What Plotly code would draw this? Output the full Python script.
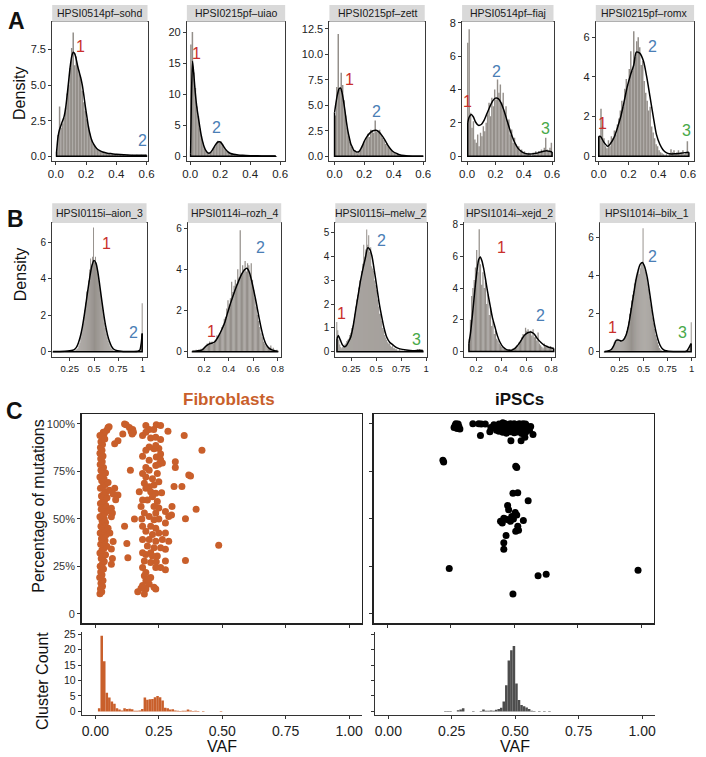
import plotly.graph_objects as go
import numpy as np

W, H = 706, 757
BIN = 0.01
FONT = "Liberation Sans, Arial, sans-serif"

# ---------------- Row A data ----------------
A_NAMES = ['HPSI0514pf\u2013sohd', 'HPSI0215pf\u2013uiao', 'HPSI0215pf\u2013zett',
           'HPSI0514pf\u2013fiaj', 'HPSI0215pf\u2013romx']
A_BAR_START = [0.005, 0.005, 0.005, 0.005, 0.005]
A1_BARS = [0.3, 1.5, 3.5, 2.0, 2.3, 2.7, 3.4, 4.4, 5.0, 6.2,
           7.6, 8.7, 6.4, 7.0, 6.3, 5.8, 5.4, 4.6, 3.8, 3.2,
           2.6, 2.1, 1.6, 1.2, 0.9, 0.8, 0.6, 0.5, 0.4, 0.35,
           0.3, 0.3, 0.25, 0.2, 0.2, 0.2, 0.15, 0.15, 0.1, 0.1,
           0.1, 0.05, 0.1, 0.05, 0.1, 0.05, 0.05, 0.1, 0.05, 0.05,
           0.1, 0.05, 0.05, 0.1, 0.05, 0.05, 0.1, 0.05, 0.05, 0.1]
A2_BARS = [18.0, 20.0, 13.5, 11.0, 8.0, 6.5, 4.5, 3.3, 2.2, 1.4,
           0.9, 0.5, 0.4, 0.5, 0.8, 1.2, 1.6, 2.0, 2.5, 2.2,
           2.4, 1.9, 1.5, 1.1, 0.8, 0.6, 0.5, 0.4, 0.35, 0.3,
           0.25, 0.2, 0.2, 0.15, 0.15, 0.12, 0.1, 0.1, 0.1, 0.1,
           0.08, 0.05, 0.08, 0.05, 0.05, 0.08, 0.05, 0.05, 0.05, 0.03,
           0.05, 0.03, 0.05, 0.03, 0.03, 0.05, 0.03, 0.03, 0.0, 0.0]
A3_BARS = [4.0, 6.8, 12.0, 6.5, 8.2, 7.0, 5.5, 4.0, 2.8, 2.0,
           1.4, 0.9, 0.7, 0.5, 0.4, 0.3, 0.4, 0.6, 0.9, 1.2,
           1.5, 1.8, 2.2, 1.9, 2.6, 2.5, 2.3, 3.5, 2.4, 2.5,
           2.6, 2.1, 1.8, 1.6, 1.2, 1.3, 0.9, 0.8, 0.6, 0.5,
           0.4, 0.3, 0.2, 0.2, 0.1, 0.1, 0.05, 0.05, 0.05, 0.0,
           0.05, 0.0, 0.0, 0.0, 0.0, 0.0, 0.0, 0.0, 0.0, 0.0]
A4_BARS = [6.8, 7.6, 2.6, 1.7, 2.1, 1.0, 0.8, 1.3, 0.6, 1.4,
           1.2, 1.8, 1.5, 2.0, 2.5, 3.2, 2.4, 3.5, 3.0, 4.0,
           3.4, 4.6, 3.8, 4.3, 3.2, 3.8, 2.6, 3.0, 2.0, 2.2,
           1.3, 1.6, 0.8, 1.1, 0.7, 0.5, 0.6, 0.3, 0.4, 0.2,
           0.3, 0.15, 0.1, 0.2, 0.1, 0.0, 0.2, 0.1, 0.3, 0.2,
           0.3, 0.2, 0.4, 0.3, 0.5, 1.1, 0.4, 0.3, 0.5, 0.8]
A5_BARS = [1.0, 2.4, 1.5, 0.9, 0.5, 0.4, 0.8, 0.5, 1.0, 0.9,
           1.3, 1.1, 1.6, 1.9, 2.3, 2.8, 2.5, 3.4, 3.9, 3.6,
           4.4, 5.3, 4.3, 6.3, 5.0, 5.8, 6.0, 5.5, 4.6, 4.8,
           3.8, 3.2, 2.8, 2.3, 2.5, 1.5, 1.2, 0.9, 0.6, 0.5,
           0.3, 0.2, 0.15, 0.1, 0.05, 0.1, 0.0, 0.1, 0.35, 0.2,
           0.3, 0.1, 0.2, 0.3, 0.15, 0.2, 0.3, 0.1, 0.2, 0.75]

A1_CX = [0.005, 0.015, 0.025, 0.035, 0.045, 0.055, 0.065, 0.075, 0.085, 0.095, 0.105, 0.115,
         0.125, 0.135, 0.145, 0.155, 0.165, 0.175, 0.185, 0.195, 0.205, 0.215, 0.225, 0.235,
         0.25, 0.27, 0.29, 0.31, 0.34, 0.37, 0.40, 0.45, 0.50, 0.55, 0.60]
A1_CY = [0.3, 1.4, 1.9, 2.2, 2.5, 2.8, 3.4, 4.3, 5.3, 6.3, 7.0, 7.3,
         7.2, 6.8, 6.3, 5.9, 5.5, 5.0, 4.3, 3.5, 2.8, 2.1, 1.6, 1.2,
         0.85, 0.55, 0.4, 0.3, 0.22, 0.18, 0.14, 0.1, 0.08, 0.08, 0.08]
A2_CX = [0.003, 0.008, 0.016, 0.025, 0.035, 0.045, 0.055, 0.065, 0.075, 0.085, 0.095, 0.105,
         0.115, 0.125, 0.135, 0.145, 0.155, 0.165, 0.175, 0.185, 0.195, 0.205, 0.215, 0.225,
         0.235, 0.25, 0.27, 0.29, 0.32, 0.35, 0.40, 0.45, 0.50, 0.57]
A2_CY = [0.5, 9.0, 15.3, 13.0, 10.0, 7.8, 6.2, 4.6, 3.2, 2.2, 1.4, 0.9,
         0.6, 0.5, 0.6, 0.9, 1.3, 1.7, 2.05, 2.3, 2.35, 2.2, 1.9, 1.5,
         1.15, 0.75, 0.45, 0.32, 0.22, 0.16, 0.1, 0.07, 0.05, 0.03]
A3_CX = [0.0, 0.01, 0.02, 0.03, 0.04, 0.05, 0.06, 0.07, 0.08, 0.09, 0.10, 0.11, 0.12, 0.13,
         0.14, 0.15, 0.16, 0.17, 0.18, 0.19, 0.20, 0.22, 0.24, 0.26, 0.28, 0.30, 0.32, 0.34,
         0.36, 0.38, 0.40, 0.42, 0.44, 0.47, 0.50, 0.55, 0.60]
A3_CY = [4.3, 5.3, 6.1, 6.6, 6.7, 6.3, 5.5, 4.5, 3.4, 2.5, 1.8, 1.2, 0.9, 0.6,
         0.5, 0.42, 0.42, 0.55, 0.8, 1.1, 1.45, 1.95, 2.3, 2.5, 2.55, 2.4, 2.05, 1.6,
         1.1, 0.7, 0.42, 0.28, 0.15, 0.07, 0.03, 0.01, 0.0]
A4_CX = [0.005, 0.015, 0.03, 0.045, 0.06, 0.08, 0.10, 0.12, 0.14, 0.16, 0.18, 0.20, 0.22,
         0.24, 0.26, 0.28, 0.30, 0.32, 0.34, 0.36, 0.38, 0.40, 0.42, 0.44, 0.46, 0.48, 0.50,
         0.52, 0.54, 0.56, 0.58, 0.60]
A4_CY = [2.0, 2.35, 2.5, 2.35, 2.05, 1.85, 1.9, 2.15, 2.55, 2.95, 3.3, 3.48, 3.45,
         3.2, 2.75, 2.2, 1.65, 1.15, 0.75, 0.47, 0.3, 0.2, 0.15, 0.13, 0.14, 0.17, 0.2,
         0.25, 0.3, 0.33, 0.3, 0.25]
A5_CX = [0.0, 0.011, 0.035, 0.06, 0.08, 0.104, 0.126, 0.148, 0.17, 0.191, 0.213, 0.235,
         0.252, 0.275, 0.30, 0.322, 0.344, 0.366, 0.387, 0.41, 0.431, 0.453, 0.475, 0.51,
         0.55, 0.58, 0.605]
A5_CY = [1.0, 1.0, 0.7, 0.5, 0.65, 0.97, 1.45, 2.0, 2.75, 3.5, 4.1, 4.6,
         5.25, 5.2, 4.8, 4.0, 3.0, 2.0, 1.1, 0.6, 0.33, 0.18, 0.12, 0.12,
         0.15, 0.18, 0.2]

A1_LABELS = [('1', 0.166, 7.7), ('2', 0.572, 1.1)]
A2_LABELS = [('1', 0.044, 16.5), ('2', 0.173, 4.7)]
A3_LABELS = [('1', 0.098, 7.5), ('2', 0.286, 4.44)]
A4_LABELS = [('1', 0.0, 3.3), ('2', 0.208, 5.05), ('3', 0.554, 1.68)]
A5_LABELS = [('1', 0.028, 1.63), ('2', 0.358, 5.55), ('3', 0.589, 1.3)]

A_XTICKS = [0.0, 0.2, 0.4, 0.6]
A_YTICKS = [[0, 2.5, 5, 7.5], [0, 5, 10, 15, 20], [0, 2.5, 5, 7.5, 10, 12.5], [0, 2, 4, 6, 8], [0, 2, 4, 6]]
A_YTEXT = [['0.0', '2.5', '5.0', '7.5'], ['0', '5', '10', '15', '20'],
           ['0.0', '2.5', '5.0', '7.5', '10.0', '12.5'], ['0', '2', '4', '6', '8'], ['0', '2', '4', '6']]

# ---------------- Row B data ----------------
B_NAMES = ['HPSI0115i\u2013aion_3', 'HPSI0114i\u2013rozh_4', 'HPSI0115i\u2013melw_2',
           'HPSI1014i\u2013xejd_2', 'HPSI1014i\u2013bilx_1']
B_BAR_START = [0.305, 0.105, 0.105, 0.145, 0.145]
B1_BARS = [0.05, 0.1, 0.15, 0.2, 0.35, 0.5, 0.8, 1.1, 1.5, 1.9, 2.3,
           2.7, 3.3, 3.2, 3.9, 4.5, 5.1, 4.6, 5.2, 6.8, 4.9,
           5.2, 4.7, 4.4, 4.0, 3.6, 3.2, 2.8, 2.4, 2.0, 1.6,
           1.3, 1.0, 0.8, 0.6, 0.45, 0.3, 0.2, 0.15, 0.1, 0.05,
           0.05, 0.03, 0.03, 0.0, 0.02, 0.0, 0.0, 0.02, 0.0, 0.0,
           0, 0, 0, 0, 0, 0, 0, 0, 0, 0,
           0, 0, 0, 0, 0, 0, 0.05, 0.4, 2.65]
B2_BARS = [0.05, 0.02, 0.05, 0.1, 0.05, 0.1, 0.1, 0.15, 0.1, 0.2,
           0.25, 0.3, 0.4, 0.35, 0.5, 0.45, 0.5, 0.4, 0.55, 0.6,
           0.8, 0.75, 0.9, 1.0, 1.2, 1.3, 1.6, 1.7, 2.1, 2.5,
           2.3, 2.6, 3.4, 2.9, 3.2, 3.5, 3.3, 4.0, 3.6, 5.9,
           3.8, 4.2, 4.0, 4.4, 3.9, 4.3, 4.2, 3.7, 4.3, 3.5,
           3.0, 2.6, 2.2, 1.8, 1.5, 1.2, 0.9, 0.7, 0.5, 0.4,
           0.3, 0.25, 0.2, 0.15, 0.3, 0.1, 0.2, 0.1, 0.05, 0.1, 0.05]
B3_BARS = [1.25, 0.9, 0.5, 0.3, 0.2, 0.15, 0.2, 0.25, 0.3, 0.35,
           0.45, 0.5, 0.55, 0.7, 0.8, 1.0, 1.1, 1.3, 1.6, 1.9,
           2.2, 2.4, 2.7, 3.0, 2.9, 3.4, 3.7, 4.5, 4.0, 4.3,
           5.15, 4.5, 4.9, 4.2, 4.4, 3.6, 3.5, 3.4, 3.0, 2.8,
           2.6, 2.2, 1.9, 1.6, 1.6, 1.3, 1.0, 0.9, 0.7, 0.6,
           0.5, 0.4, 0.35, 0.35, 0.25, 0.2, 0.25, 0.15, 0.15, 0.1,
           0.1, 0.05, 0.05, 0.1, 0.05, 0.05, 0.05, 0.0, 0.05, 0.0,
           0.05, 0.0, 0.05, 0.0, 0.0, 0.05, 0.0, 0.05, 0.0, 0.05,
           0.05, 0.1, 0.05, 0.1, 0.05, 0.05, 0.05]
B4_BARS = [0.8, 2.0, 3.5, 4.0, 4.5, 5.3, 6.4, 5.0, 7.7, 5.5,
           4.2, 5.0, 4.0, 4.6, 3.0, 3.6, 2.3, 2.8, 1.6, 1.9,
           1.1, 1.3, 0.8, 0.7, 0.5, 0.4, 0.3, 0.2, 0.15, 0.1,
           0.1, 0.05, 0.15, 0.1, 0.1, 0.2, 0.15, 0.3, 0.4, 0.35,
           0.6, 0.7, 0.9, 1.1, 1.0, 1.5, 1.3, 1.4, 1.2, 1.3,
           1.0, 1.4, 0.9, 1.0, 0.7, 1.2, 0.5, 0.4, 0.3, 0.2,
           0.5, 0.3, 0.4, 0.3, 0.2, 0.35, 0.2, 0.25]
B5_BARS = [0.05, 0.1, 0.15, 0.2, 0.3, 0.5, 0.6, 0.55, 0.7, 0.65,
           0.6, 0.5, 0.6, 0.55, 0.6, 0.7, 0.8, 0.9, 1.1, 1.3,
           1.6, 2.0, 2.3, 2.7, 3.0, 3.2, 3.6, 3.8, 4.0, 4.2,
           4.3, 4.1, 4.4, 4.6, 4.7, 6.5, 4.5, 4.3, 4.2, 3.9,
           3.6, 3.3, 2.9, 2.5, 2.2, 1.8, 1.5, 1.2, 0.9, 0.7,
           0.5, 0.35, 0.2, 0.12, 0.08, 0.05, 0.03, 0.0, 0.02, 0.0,
           0.0, 0.02, 0.0, 0.0, 0.0, 0.02, 0.0, 0.0, 0.0, 0.0,
           0, 0, 0, 0, 0, 0, 0, 0, 0.02, 0.0,
           0.02, 0.05, 0.1, 0.15, 0.3, 1.55]

B1_CX = [0.08, 0.15, 0.20, 0.25, 0.28, 0.30, 0.32, 0.34, 0.36, 0.38, 0.40, 0.42, 0.44, 0.46,
         0.48, 0.50, 0.52, 0.54, 0.56, 0.58, 0.60, 0.62, 0.64, 0.66, 0.68, 0.70, 0.73, 0.76,
         0.80, 0.90, 0.95, 0.97, 0.985, 0.995]
B1_CY = [0.02, 0.02, 0.03, 0.05, 0.08, 0.13, 0.25, 0.5, 0.85, 1.35, 2.0, 2.75, 3.5, 4.2,
         4.75, 5.0, 4.85, 4.35, 3.6, 2.8, 2.05, 1.4, 0.9, 0.55, 0.3, 0.15, 0.07, 0.04,
         0.02, 0.02, 0.03, 0.08, 0.45, 1.0]
B2_CX = [0.105, 0.14, 0.18, 0.22, 0.25, 0.27, 0.29, 0.31, 0.33, 0.35, 0.37, 0.39, 0.41, 0.43,
         0.45, 0.47, 0.49, 0.51, 0.53, 0.55, 0.57, 0.59, 0.61, 0.63, 0.65, 0.67, 0.69, 0.71,
         0.73, 0.76, 0.80]
B2_CY = [0.02, 0.04, 0.08, 0.3, 0.4, 0.43, 0.5, 0.68, 0.9, 1.15, 1.45, 1.85, 2.25, 2.6,
         2.95, 3.25, 3.55, 3.8, 3.98, 4.05, 3.85, 3.4, 2.85, 2.25, 1.62, 1.05, 0.6, 0.32,
         0.18, 0.08, 0.02]
B3_CX = [0.107, 0.12, 0.14, 0.16, 0.18, 0.20, 0.22, 0.245, 0.27, 0.294, 0.32, 0.343, 0.37,
         0.392, 0.415, 0.437, 0.457, 0.48, 0.507, 0.53, 0.556, 0.58, 0.605, 0.635, 0.67, 0.70,
         0.737, 0.80, 0.868, 0.90, 0.934, 0.967]
B3_CY = [0.55, 0.68, 0.5, 0.3, 0.21, 0.25, 0.4, 0.62, 1.1, 1.74, 2.4, 2.99, 3.55,
         3.96, 4.37, 4.3, 4.03, 3.45, 2.7, 2.05, 1.46, 0.98, 0.62, 0.4, 0.28, 0.18,
         0.12, 0.07, 0.04, 0.05, 0.06, 0.05]
B4_CX = [0.143, 0.156, 0.169, 0.182, 0.195, 0.208, 0.221, 0.234, 0.247, 0.26, 0.273, 0.29,
         0.312, 0.33, 0.351, 0.37, 0.39, 0.415, 0.443, 0.465, 0.482, 0.51, 0.534, 0.56, 0.586,
         0.612, 0.638, 0.664, 0.69, 0.716, 0.743, 0.78, 0.82]
B4_CY = [0.5, 1.2, 2.17, 3.2, 4.25, 5.15, 5.8, 5.96, 5.7, 5.25, 4.67, 3.85,
         2.9, 2.15, 1.54, 1.0, 0.6, 0.28, 0.12, 0.08, 0.08, 0.2, 0.4, 0.7, 1.02,
         1.18, 1.23, 1.1, 0.81, 0.58, 0.4, 0.27, 0.19]
B5_CX = [0.096, 0.13, 0.165, 0.19, 0.216, 0.24, 0.267, 0.29, 0.318, 0.345, 0.37, 0.395,
         0.42, 0.445, 0.465, 0.488, 0.51, 0.539, 0.565, 0.59, 0.615, 0.642, 0.668, 0.693,
         0.72, 0.761, 0.85, 0.93, 0.95, 0.966, 0.98, 0.994]
B5_CY = [0.01, 0.04, 0.12, 0.32, 0.6, 0.62, 0.57, 0.62, 0.87, 1.4, 2.17, 2.95,
         3.74, 4.3, 4.6, 4.7, 4.5, 3.9, 3.05, 2.17, 1.4, 0.78, 0.38, 0.17,
         0.07, 0.03, 0.02, 0.02, 0.05, 0.17, 0.3, 0.43]

B1_LABELS = [('1', 0.625, 5.9), ('2', 0.904, 1.05)]
B2_LABELS = [('1', 0.26, 0.96), ('2', 0.661, 5.07)]
B3_LABELS = [('1', 0.152, 1.63), ('2', 0.556, 4.68), ('3', 0.908, 0.51)]
B4_LABELS = [('1', 0.404, 6.54), ('2', 0.717, 2.27)]
B5_LABELS = [('1', 0.181, 1.3), ('2', 0.59, 5.0), ('3', 0.905, 1.04)]

B_XTICKS = [[0.25, 0.5, 0.75, 1], [0.2, 0.4, 0.6, 0.8], [0.25, 0.5, 0.75, 1],
            [0.2, 0.4, 0.6, 0.8], [0.25, 0.5, 0.75, 1]]
B_XTEXT = [['0.25', '0.5', '0.75', '1'], ['0.2', '0.4', '0.6', '0.8'], ['0.25', '0.5', '0.75', '1'],
           ['0.2', '0.4', '0.6', '0.8'], ['0.25', '0.5', '0.75', '1']]
B_YTICKS = [[0, 2, 4, 6], [0, 2, 4, 6], [0, 1, 2, 3, 4, 5], [0, 2, 4, 6, 8], [0, 2, 4, 6]]

# ---------------- Row C data ----------------
FIB_POINTS = [
    (0.018, 10.5), (0.025, 11.5), (0.02, 13), (0.028, 14.5), (0.022, 16), (0.03, 17.5), (0.017, 19),
    (0.026, 20.5), (0.021, 22), (0.032, 23.5), (0.019, 25), (0.027, 26), (0.035, 27.5), (0.023, 29),
    (0.03, 30), (0.04, 31), (0.018, 32), (0.026, 33.5), (0.034, 34.5), (0.045, 35.5), (0.021, 36.5),
    (0.03, 37.5), (0.038, 38.5), (0.024, 39.5), (0.033, 40.5), (0.042, 41.5), (0.019, 42.5),
    (0.028, 43.5), (0.036, 44.5), (0.05, 45), (0.022, 46), (0.031, 47), (0.04, 48), (0.026, 49),
    (0.035, 50), (0.018, 51), (0.029, 52), (0.038, 53), (0.047, 54), (0.023, 55), (0.032, 56),
    (0.041, 57), (0.02, 58), (0.029, 59), (0.037, 60), (0.046, 61), (0.024, 62), (0.033, 63),
    (0.042, 64), (0.055, 65), (0.02, 66), (0.03, 67), (0.039, 68), (0.05, 69), (0.025, 70),
    (0.034, 71), (0.018, 72), (0.028, 73), (0.04, 74), (0.022, 75.5), (0.032, 77), (0.019, 78.5),
    (0.027, 80), (0.021, 81.5), (0.03, 83), (0.018, 84.5), (0.026, 86), (0.02, 87.5), (0.028, 89),
    (0.022, 90.5), (0.03, 92), (0.025, 93.5), (0.035, 95), (0.045, 96.5), (0.05, 98),
    (0.076, 66), (0.07, 63), (0.089, 62.5), (0.08, 60), (0.063, 55.5), (0.067, 53), (0.063, 51),
    (0.057, 42.5), (0.07, 38), (0.063, 34), (0.067, 29), (0.063, 26), (0.054, 98.4), (0.031, 95.5),
    (0.018, 93.8), (0.037, 92),
    (0.089, 91), (0.115, 99.8), (0.121, 99.5), (0.134, 98), (0.141, 96), (0.147, 97), (0.15, 95.5),
    (0.145, 94.6), (0.108, 94.6), (0.076, 89.4), (0.138, 75.5), (0.128, 29.5), (0.115, 46),
    (0.154, 49.8), (0.124, 37),
    (0.199, 99), (0.24, 99.5), (0.257, 99), (0.212, 97), (0.23, 97), (0.186, 93.8), (0.199, 95.5),
    (0.286, 96), (0.218, 92.5), (0.238, 92.9), (0.257, 91.7), (0.25, 87), (0.231, 86.8), (0.238, 88.5),
    (0.212, 87.7), (0.186, 82.8), (0.199, 86), (0.24, 82.5), (0.257, 84), (0.199, 76.9), (0.212, 75.5),
    (0.238, 78), (0.25, 78.6), (0.264, 79.3), (0.257, 81), (0.244, 73.8), (0.225, 71), (0.193, 68.6),
    (0.212, 66.8), (0.231, 67.7), (0.25, 69.4), (0.199, 66), (0.218, 64.2), (0.238, 63.4), (0.261, 63.7),
    (0.205, 59.9), (0.225, 61.6), (0.244, 59), (0.231, 56.4), (0.25, 55.6), (0.238, 53), (0.212, 51.2),
    (0.193, 53), (0.231, 49.5), (0.25, 49.8), (0.276, 53.8), (0.289, 51.2), (0.302, 56.4), (0.276, 47.7),
    (0.218, 46), (0.238, 45), (0.199, 43.4), (0.225, 41.7), (0.25, 42.5), (0.276, 42.5), (0.212, 39),
    (0.238, 38.2), (0.264, 39), (0.289, 38.2), (0.205, 35.6), (0.231, 34.7), (0.257, 34.7), (0.276, 33.9),
    (0.199, 31.2), (0.218, 32.1), (0.244, 30.4), (0.193, 27.8), (0.218, 26.9), (0.24, 27.3), (0.276, 27.8),
    (0.257, 24.3), (0.238, 24.3), (0.276, 23.1), (0.199, 21.7), (0.193, 20), (0.218, 19.1), (0.199, 17.4),
    (0.212, 15.6), (0.231, 13.9), (0.238, 13), (0.199, 13), (0.167, 11.6), (0.193, 10.4), (0.18, 13.4),
    (0.186, 14.8), (0.209, 18.2), (0.186, 24.3), (0.186, 32.1), (0.186, 39), (0.186, 46), (0.186, 59.9),
    (0.186, 73.8), (0.173, 64.2), (0.18, 56.4), (0.183, 49.8), (0.212, 80.7), (0.199, 72), (0.225, 30.4),
    (0.35, 93.75), (0.42, 86), (0.486, 36), (0.355, 28), (0.397, 55), (0.355, 50), (0.368, 73),
    (0.375, 72.5), (0.315, 80), (0.315, 77), (0.341, 67), (0.31, 67), (0.30, 52),
]
IPS_POINTS = [
    (0.42, 99.5), (0.43, 98.5), (0.44, 99.8), (0.445, 97.5), (0.45, 99), (0.455, 98), (0.46, 100),
    (0.465, 96.5), (0.47, 99.3), (0.475, 97.8), (0.48, 98.8), (0.485, 100), (0.49, 96.8), (0.495, 99.2),
    (0.50, 98), (0.505, 99.6), (0.51, 97), (0.515, 98.6), (0.52, 100), (0.525, 96.3), (0.53, 99),
    (0.535, 97.6), (0.54, 98.8), (0.545, 99.8), (0.55, 97.2), (0.555, 98.4), (0.56, 96.6), (0.44, 96),
    (0.455, 95.5), (0.47, 95), (0.485, 95.8), (0.50, 95.2), (0.515, 95.6), (0.53, 94.8), (0.545, 95.5),
    (0.465, 100), (0.49, 99.5), (0.50, 100), (0.52, 98), (0.535, 100), (0.48, 97), (0.51, 99.5),
    (0.455, 100.5), (0.43, 96.5), (0.565, 98.5), (0.574, 94.3), (0.527, 91), (0.487, 91), (0.542, 92.9),
    (0.367, 93.75), (0.404, 95.8), (0.408, 98), (0.424, 99), (0.337, 100), (0.36, 100), (0.37, 99.8),
    (0.386, 99.8), (0.267, 99), (0.273, 98.4), (0.279, 99.8), (0.286, 97.2), (0.263, 98), (0.282, 98.5),
    (0.275, 97.5), (0.27, 100),
    (0.219, 80.7), (0.222, 79.9), (0.506, 77.6), (0.51, 76.9), (0.495, 63.4), (0.514, 63.7),
    (0.555, 59.5), (0.474, 56.9), (0.478, 54.7), (0.504, 53.3), (0.51, 52), (0.49, 51.2), (0.465, 49.8),
    (0.446, 48.6), (0.453, 47.7), (0.476, 49.5), (0.459, 50.3), (0.485, 48.6), (0.497, 49.8),
    (0.536, 49), (0.514, 46), (0.506, 43.4), (0.517, 43.9), (0.468, 41.1), (0.459, 37.3), (0.459, 33.9),
    (0.244, 23.8), (0.594, 20), (0.626, 20.8), (0.495, 10.4), (0.988, 22.9),
]
FIB_HIST_START = 0.015
FIB_HIST = [1.0, 24.5, 16.2, 6.0, 4.5, 3.2, 2.5, 1.0, 0.6, 0.3,
            1.0, 0.8, 0.9, 0.7, 0.2, 0.2, 0.3, 0.8, 4.5, 3.8,
            3.9, 4.0, 4.6, 5.0, 4.6, 3.5, 1.2, 1.0, 0.6, 0.7,
            0.3, 0.2, 0.1, 0.2, 0.2, 0.6, 0.3, 0.1, 0.2, 0.1,
            0.0, 0.1, 0.0, 0.0, 0.0, 0.0, 0.0, 0.0, 0.1]
IPS_HIST_START = 0.225
IPS_HIST = [0.1, 0.1, 0.1, 0.0, 0.0, 0.4, 0.6, 1.0, 0.0, 0.0,
            0.0, 0.1, 0.0, 0.0, 0.1, 0.6, 0.2, 0.2, 0.3, 0.2,
            0.5, 0.8, 1.2, 3.2, 8.5, 16.5, 19.8, 21.2, 9.0, 3.7,
            2.1, 1.7, 1.3, 0.8, 0.2, 0.1, 0.0, 0.1, 0.0, 0.1,
            0.0, 0.1]
VAF_TICKS = [0.0, 0.25, 0.5, 0.75, 1.0]
VAF_TEXT = ['0.00', '0.25', '0.50', '0.75', '1.00']
PCT_TICKS = [0, 25, 50, 75, 100]
PCT_TEXT = ['0', '25%', '50%', '75%', '100%']
COUNT_TICKS = [0, 5, 10, 15, 20, 25]

# ---------------- styling ----------------
BAR_GREY = '#948f8a'
FIB_COL = '#c95f2b'
IPS_COL = '#000000'
IPS_HIST_COL = '#4d4d4d'
LABEL_COL = {'1': '#c9302c', '2': '#4a7eb5', '3': '#48a848'}

fig = go.Figure()
layout = dict(width=W, height=H, margin=dict(l=0, r=0, t=0, b=0), autosize=False,
              paper_bgcolor='white', plot_bgcolor='white', showlegend=False,
              barmode='overlay', font=dict(family=FONT, color='#222'))
annotations = []
shapes = []
counter = [0]


def add_axes(xl, xr, yt, yb, xr_, yr_, xo, yo):
    counter[0] += 1
    n = counter[0]
    xs = 'x' if n == 1 else f'x{n}'
    ys = 'y' if n == 1 else f'y{n}'
    layout['xaxis' if n == 1 else f'xaxis{n}'] = dict(domain=[xl / W, xr / W], range=xr_, anchor=ys,
                                                       showgrid=False, zeroline=False, **xo)
    layout['yaxis' if n == 1 else f'yaxis{n}'] = dict(domain=[1 - yb / H, 1 - yt / H], range=yr_, anchor=xs,
                                                       showgrid=False, zeroline=False, **yo)
    return xs, ys


def frame_axis(size, **kw):
    d = dict(showline=True, mirror=True, linecolor='#3a3a3a', linewidth=1, ticks='outside',
             ticklen=3, tickwidth=1, tickcolor='#3a3a3a', tickfont=dict(size=size, color='#222'))
    d.update(kw)
    return d


def density_panel(xs, ys, start, bars, cx, cy, labels):
    centers = start + BIN * np.arange(len(bars))
    fig.add_trace(go.Bar(x=centers, y=bars, width=BIN, marker=dict(color=BAR_GREY, line=dict(width=0)),
                         xaxis=xs, yaxis=ys))
    fig.add_trace(go.Scatter(x=cx, y=cy, mode='lines', xaxis=xs, yaxis=ys,
                             line=dict(color='black', width=1.5, shape='spline', smoothing=0.7)))
    fig.add_trace(go.Scatter(x=[cx[-1], cx[-1], cx[0], cx[0]], y=[cy[-1], 0, 0, cy[0]], mode='lines',
                             xaxis=xs, yaxis=ys, line=dict(color='black', width=1.5)))
    for t, lx, ly in labels:
        annotations.append(dict(x=lx, y=ly, xref=xs, yref=ys, text=t, showarrow=False,
                                xanchor='center', yanchor='middle',
                                font=dict(size=16, color=LABEL_COL[t])))


def strip(xl, xr, yt, yb, text):
    shapes.append(dict(type='rect', xref='paper', yref='paper', x0=xl / W, x1=xr / W,
                       y0=1 - yb / H, y1=1 - yt / H, fillcolor='#d9d9d9', line=dict(width=0)))
    annotations.append(dict(x=(xl + xr) / 2 / W, y=1 - (yt + yb) / 2 / H, xref='paper', yref='paper',
                            text=text, showarrow=False, xanchor='center', yanchor='middle',
                            font=dict(size=10.5, color='#1a1a1a')))


def ptext(x, y, text, size, color='#111', bold=False, angle=0):
    annotations.append(dict(x=x / W, y=1 - y / H, xref='paper', yref='paper', showarrow=False,
                            text=f'<b>{text}</b>' if bold else text, textangle=angle,
                            xanchor='center', yanchor='middle', font=dict(size=size, color=color)))


# Row A
A_FRAMES = [(48, 145), (185, 285), (330, 427), (465, 558), (601, 701)]
A_XR = [[-0.024, 0.606], [-0.022, 0.633], [-0.035, 0.61], [-0.035, 0.61], [-0.02, 0.64]]
A_YR = [[-0.30, 9.44], [-0.69, 21.65], [-0.42, 13.2], [-0.26, 8.05], [-0.22, 6.78]]
A_DATA = [(A1_BARS, A1_CX, A1_CY, A1_LABELS), (A2_BARS, A2_CX, A2_CY, A2_LABELS),
          (A3_BARS, A3_CX, A3_CY, A3_LABELS), (A4_BARS, A4_CX, A4_CY, A4_LABELS),
          (A5_BARS, A5_CX, A5_CY, A5_LABELS)]
for i in range(5):
    xl, xr = A_FRAMES[i]
    xs, ys = add_axes(xl, xr, 17, 157, A_XR[i], A_YR[i],
                      frame_axis(11.5, tickvals=A_XTICKS, ticktext=['0.0', '0.2', '0.4', '0.6']),
                      frame_axis(11, tickvals=A_YTICKS[i], ticktext=A_YTEXT[i]))
    b, cx, cy, lab = A_DATA[i]
    density_panel(xs, ys, A_BAR_START[i], b, cx, cy, lab)
    strip(xl, xr, 0, 17, A_NAMES[i])

# Row B
B_FRAMES = [(48, 144), (186, 281), (336, 429), (467, 560), (605, 702)]
B_XR = [[0.07, 1.04], [0.067, 0.83], [0.09, 1.006], [0.104, 0.834], [0.045, 1.035]]
B_YR = [[-0.27, 7.05], [-0.24, 6.25], [-0.21, 5.42], [-0.33, 8.1], [-0.26, 6.78]]
B_DATA = [(B1_BARS, B1_CX, B1_CY, B1_LABELS), (B2_BARS, B2_CX, B2_CY, B2_LABELS),
          (B3_BARS, B3_CX, B3_CY, B3_LABELS), (B4_BARS, B4_CX, B4_CY, B4_LABELS),
          (B5_BARS, B5_CX, B5_CY, B5_LABELS)]
for i in range(5):
    xl, xr = B_FRAMES[i]
    xs, ys = add_axes(xl, xr, 220, 355, B_XR[i], B_YR[i],
                      frame_axis(9.5, tickvals=B_XTICKS[i], ticktext=B_XTEXT[i]),
                      frame_axis(10, tickvals=B_YTICKS[i]))
    b, cx, cy, lab = B_DATA[i]
    density_panel(xs, ys, B_BAR_START[i], b, cx, cy, lab)
    strip(xl, xr, 200, 220, B_NAMES[i])

# Row C scatter
VAF_R = [-0.054, 1.05]
sc_x = dict(showline=True, mirror=True, linecolor='#222', linewidth=1.5, ticks='outside', ticklen=3,
            tickcolor='#333', tickvals=VAF_TICKS, showticklabels=False)
for j, (pts, col, xl, xr) in enumerate([(FIB_POINTS, FIB_COL, 78, 363), (IPS_POINTS, IPS_COL, 375, 660)]):
    yo = dict(showline=True, mirror=True, linecolor='#222', linewidth=1.5, ticks='outside', ticklen=3,
              tickcolor='#333', tickvals=PCT_TICKS, ticktext=PCT_TEXT, showticklabels=(j == 0),
              tickfont=dict(size=11, color='#333'))
    xs, ys = add_axes(xl, xr, 413, 624, VAF_R, [-5, 105], sc_x, yo)
    fig.add_trace(go.Scatter(x=[p[0] for p in pts], y=[p[1] for p in pts], mode='markers',
                             marker=dict(size=7, color=col, line=dict(width=0)), xaxis=xs, yaxis=ys))

# Row C histograms
for j, (start, vals, col, xl, xr) in enumerate([(FIB_HIST_START, FIB_HIST, FIB_COL, 78, 363),
                                                 (IPS_HIST_START, IPS_HIST, IPS_HIST_COL, 376, 661)]):
    xo = dict(showline=True, linecolor='#333', linewidth=1, ticks='outside', ticklen=3, tickcolor='#333',
              tickvals=VAF_TICKS, ticktext=VAF_TEXT, tickfont=dict(size=14, color='#222'))
    yo = dict(showline=True, linecolor='#333', linewidth=1, ticks='outside', ticklen=3, tickcolor='#333',
              tickvals=COUNT_TICKS, showticklabels=(j == 0), tickfont=dict(size=10.5, color='#222'))
    xs, ys = add_axes(xl, xr, 633, 717, VAF_R, [-1.28, 25.64], xo, yo)
    centers = start + BIN * np.arange(len(vals))
    fig.add_trace(go.Bar(x=centers, y=vals, width=BIN, marker=dict(color=col, line=dict(width=0)),
                         xaxis=xs, yaxis=ys))

# Text
ptext(12, 16, 'A', 23, bold=True)
ptext(11, 216, 'B', 23, bold=True)
ptext(10, 410, 'C', 23, bold=True)
ptext(14, 89, 'Density', 16, angle=-90)
ptext(16, 272, 'Density', 16, angle=-90)
ptext(228, 398, 'Fibroblasts', 17, color=FIB_COL, bold=True)
ptext(523, 398, 'iPSCs', 17, color='#111', bold=True)
ptext(34, 506, 'Percentage of mutations', 16, angle=-90)
ptext(38, 682, 'Cluster Count', 16, angle=-90)
ptext(221, 748, 'VAF', 16)
ptext(519, 748, 'VAF', 16)

layout['annotations'] = annotations
layout['shapes'] = shapes
fig.update_layout(**layout)
fig.write_html('out.html', config={'displayModeBar': False, 'staticPlot': True},
               post_script="document.body.style.margin='0';document.body.style.padding='0';"
                           "document.documentElement.style.overflow='hidden';")
